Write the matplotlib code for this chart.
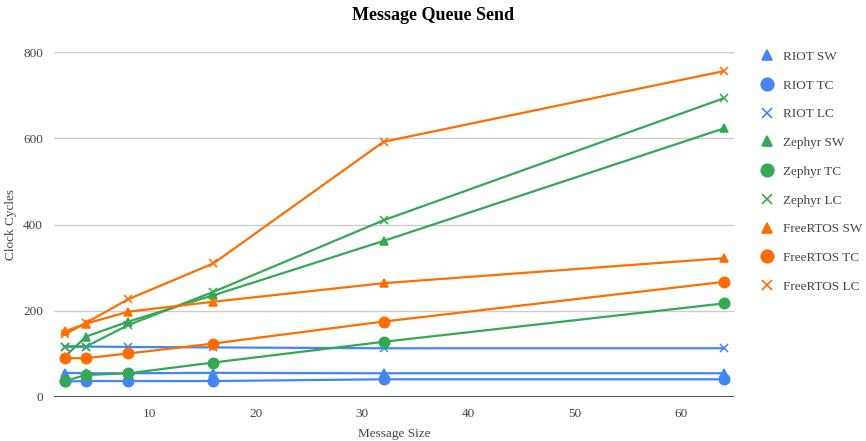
import matplotlib
matplotlib.use("Agg")
import matplotlib.pyplot as plt
from matplotlib.lines import Line2D

plt.rcParams["font.family"] = ["Liberation Serif", "DejaVu Serif"]

# message sizes (bytes)
sizes = [2, 4, 8, 16, 32, 64]

riot_sw = [56, 55, 55, 56, 55, 55]
riot_tc = [36, 37, 37, 37, 41, 41]
riot_lc = [117, 117, 116, 115, 113, 113]
zephyr_sw = [93, 140, 175, 236, 362, 623]
zephyr_tc = [37, 51, 55, 80, 128, 217]
zephyr_lc = [117, 117, 167, 244, 410, 693]
freertos_sw = [152, 170, 198, 221, 264, 322]
freertos_tc = [90, 90, 101, 124, 175, 267]
freertos_lc = [145, 172, 227, 310, 592, 756]

labels = ["RIOT SW", "RIOT TC", "RIOT LC",
          "Zephyr SW", "Zephyr TC", "Zephyr LC",
          "FreeRTOS SW", "FreeRTOS TC", "FreeRTOS LC"]

blue = "#4285f4"
green = "#34a853"
orange = "#ff6d01"

series = [
    (riot_sw, blue, "^"), (riot_tc, blue, "o"), (riot_lc, blue, "x"),
    (zephyr_sw, green, "^"), (zephyr_tc, green, "o"), (zephyr_lc, green, "x"),
    (freertos_sw, orange, "^"), (freertos_tc, orange, "o"), (freertos_lc, orange, "x"),
]
msizes = {"^": 5.5, "o": 7.5, "x": 6}

fig = plt.figure(figsize=(8.66, 4.41), dpi=100)
ax = fig.add_axes([0.0624, 0.0998, 0.7856, 0.782])

handles = []
for (vals, col, mk), lab in zip(series, labels):
    ax.plot(sizes, vals, color=col, lw=1.6, marker=mk, ms=msizes[mk],
            mew=1.1, label=lab)
    handles.append(Line2D([], [], color=col, marker=mk, ls="none",
                          ms=msizes[mk] + 1.5, mew=1.2))

ax.set_xlim(1, 65)
ax.set_ylim(0, 800)
ax.set_yticks([0, 200, 400, 600, 800])
ax.set_xticks([10, 20, 30, 40, 50, 60])
ax.grid(axis="y", color="#cccccc", lw=1)
ax.set_axisbelow(True)
for s in ax.spines.values():
    s.set_visible(False)
ax.axhline(0, color="#333333", lw=1.2)
ax.tick_params(length=0, labelsize=9.5, colors="#444444", pad=8)

ax.set_xlabel("Message Size", fontsize=9.5, color="#444444", labelpad=6)
ax.set_ylabel("Clock Cycles", fontsize=9.5, color="#444444", labelpad=4)
fig.suptitle("Message Queue Send", fontsize=13, fontweight="bold", y=0.985)

fig.legend(handles, labels, loc="upper left", bbox_to_anchor=(0.864, 0.912),
           frameon=False, fontsize=9.5, labelspacing=1.25, handlelength=1.0,
           handletextpad=0.7, labelcolor="#444444")

fig.savefig("out.png", dpi=100)
